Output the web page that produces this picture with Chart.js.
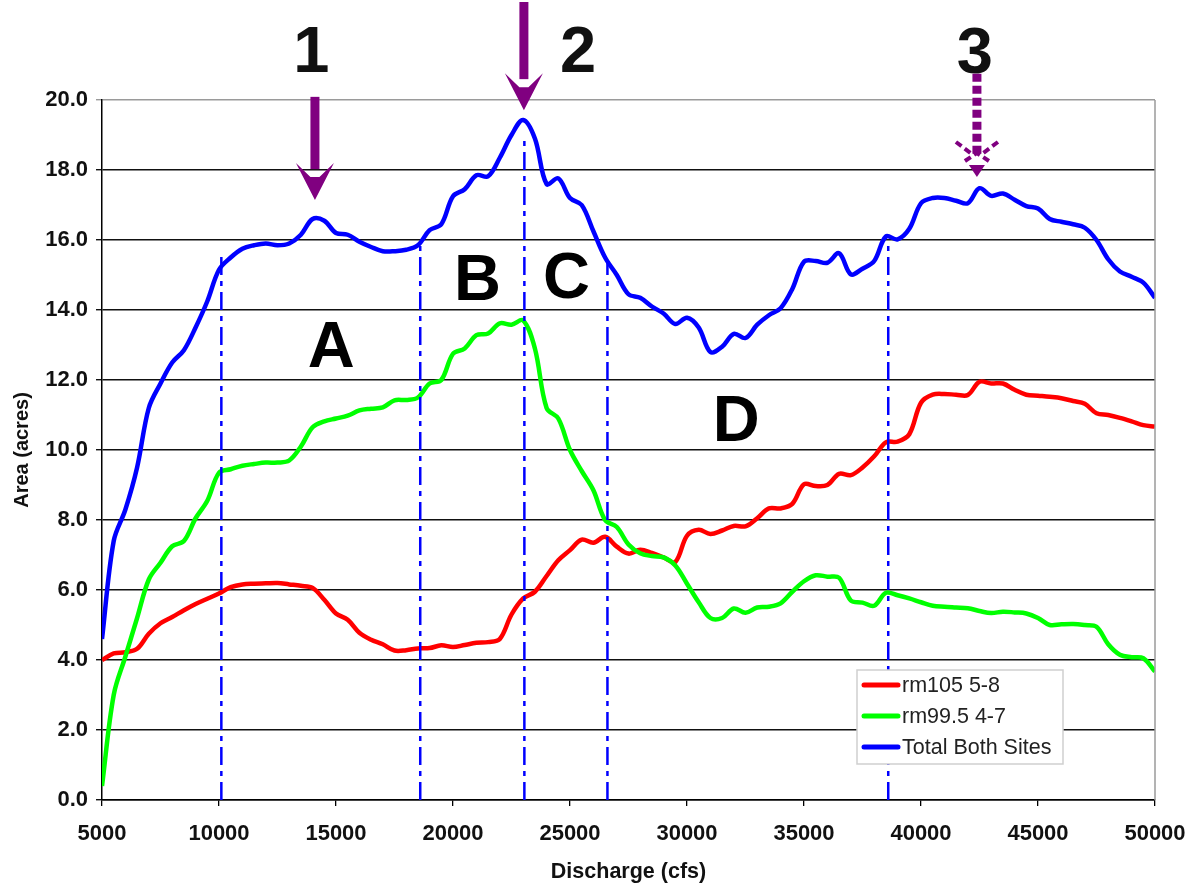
<!DOCTYPE html>
<html><head><meta charset="utf-8">
<script src="https://cdn.jsdelivr.net/npm/chart.js@4.4.0/dist/chart.umd.min.js"></script>
<style>html,body{margin:0;padding:0;background:#fff;}#wrap{width:1188px;height:891px;}</style>
</head><body><div id="wrap"><canvas id="c" width="1188" height="891"></canvas></div>
<script>
const discharge = [5000,5500,6000,6500,7000,7500,8000,8500,9000,9500,
  10000,10500,11000,11500,12000,12500,13000,13500,14000,14500,
  15000,15500,16000,16500,17000,17500,18000,18500,19000,19500,
  20000,20500,21000,21500,22000,22500,23000,23500,24000,24500,
  25000,25500,26000,26500,27000,27500,28000,28500,29000,29500,
  30000,30500,31000,31500,32000,32500,33000,33500,34000,34500,
  35000,35500,36000,36500,37000,37500,38000,38500,39000,39500,
  40000,40500,41000,41500,42000,42500,43000,43500,44000,44500,
  45000,45500,46000,46500,47000,47500,48000,48500,49000,49500,
  50000];
const rm105 = [4.0,4.19,4.22,4.32,4.75,5.05,5.23,5.42,5.6,5.75,
  5.9,6.08,6.16,6.18,6.19,6.2,6.16,6.12,6.06,5.72,
  5.33,5.15,4.78,4.58,4.45,4.27,4.28,4.33,4.34,4.42,
  4.37,4.43,4.49,4.51,4.6,5.3,5.76,5.95,6.4,6.85,
  7.14,7.44,7.35,7.52,7.24,7.04,7.15,7.06,6.93,6.8,
  7.55,7.72,7.6,7.7,7.83,7.82,8.05,8.33,8.33,8.46,
  9.02,8.97,9.0,9.32,9.28,9.5,9.82,10.22,10.24,10.45,
  11.35,11.58,11.6,11.58,11.57,11.95,11.9,11.9,11.72,11.58,
  11.55,11.52,11.48,11.4,11.32,11.05,11.0,10.92,10.82,10.71,
  10.67];
const rm995 = [0.4,3.0,4.1,5.2,6.3,6.78,7.25,7.4,8.05,8.55,
  9.35,9.45,9.55,9.6,9.64,9.64,9.7,10.1,10.65,10.82,
  10.9,10.98,11.13,11.18,11.22,11.42,11.43,11.5,11.9,12.0,
  12.75,12.9,13.28,13.33,13.62,13.58,13.7,12.9,11.2,10.9,
  10.0,9.4,8.85,8.0,7.8,7.3,7.05,6.97,6.93,6.7,
  6.18,5.65,5.2,5.2,5.47,5.35,5.5,5.52,5.62,5.95,
  6.25,6.42,6.38,6.35,5.7,5.64,5.55,5.92,5.85,5.76,
  5.65,5.55,5.52,5.5,5.48,5.4,5.34,5.38,5.36,5.33,
  5.2,5.0,5.02,5.03,5.0,4.95,4.45,4.15,4.08,4.05,
  3.67];
const totalBoth = [4.6,7.4,8.3,9.5,11.2,11.9,12.5,12.85,13.5,14.25,
  15.15,15.5,15.75,15.85,15.9,15.85,15.9,16.15,16.6,16.55,
  16.2,16.15,15.95,15.8,15.68,15.68,15.72,15.85,16.28,16.45,
  17.25,17.45,17.85,17.82,18.35,19.0,19.43,18.9,17.6,17.76,
  17.2,17.0,16.25,15.5,15.0,14.45,14.35,14.1,13.9,13.6,
  13.78,13.5,12.8,12.95,13.32,13.2,13.58,13.85,14.05,14.6,
  15.38,15.4,15.35,15.62,15.02,15.18,15.4,16.1,16.02,16.32,
  17.05,17.2,17.2,17.12,17.05,17.48,17.26,17.33,17.15,16.97,
  16.9,16.6,16.52,16.45,16.35,16.0,15.45,15.1,14.95,14.78,
  14.35];
const seriesNames = ['rm105 5-8','rm99.5 4-7','Total Both Sites'];
const dividerX = [10100, 18600, 23050, 26600, 38600];
const dividerTop = [15.55, 15.86, 18.95, 15.35, 15.9];
const zoneLabels = ['A','B','C','D'];
const zoneX = [14800, 21050, 24850, 32100];
const zoneY = [12.37, 14.29, 14.34, 10.26];
const markerLabels = ['1','2','3'];
const markerLabelX = [13950, 25350, 42300];
const markerLabelY = [20.8, 20.8, 20.77];
const arrowX = [14100, 23030, 42390];
const arrowTop = [20.09, 22.8, 20.75];
const arrowTip = [17.14, 19.71, 17.8];
const arrowDotted = [false, false, true];
const xTickMin = 5000, xTickMax = 50000, xTickStep = 5000;
const yTickMin = 0, yTickMax = 20, yTickStep = 2;

const FONT = "'Liberation Sans', Arial, sans-serif";
const colors = ['#ff0000', '#00ff00', '#0000ff'];
const seriesData = [rm105, rm995, totalBoth];

const datasets = seriesData.map((arr, i) => ({
  label: seriesNames[i],
  data: discharge.map((x, j) => ({x: x, y: arr[j]})),
  borderColor: colors[i],
  backgroundColor: colors[i],
  borderWidth: 4.5,
  pointRadius: 0,
  tension: 0.35,
  fill: false,
  order: 3 - i,
  inLegend: true
}));
dividerX.forEach((x, i) => {
  datasets.push({
    label: 'divider' + i,
    data: [{x: x, y: 0}, {x: x, y: dividerTop[i]}],
    borderColor: '#0000ff',
    borderWidth: 2.5,
    borderDash: [18, 6, 5, 6],
    pointRadius: 0,
    tension: 0,
    fill: false,
    order: -1,
    inLegend: false
  });
});

const annotPlugin = {
  id: 'annot',
  beforeDatasetsDraw(chart) {
    const ctx = chart.ctx, xs = chart.scales.x, ys = chart.scales.y;
    ctx.save();
    ctx.fillStyle = '#000';
    ctx.font = 'bold 65px ' + FONT;
    ctx.textAlign = 'center';
    ctx.textBaseline = 'alphabetic';
    zoneLabels.forEach((t, i) => {
      ctx.fillText(t, xs.getPixelForValue(zoneX[i]), ys.getPixelForValue(zoneY[i]));
    });
    ctx.restore();
  },
  afterDraw(chart) {
    const ctx = chart.ctx, xs = chart.scales.x, ys = chart.scales.y, a = chart.chartArea;
    ctx.save();
    ctx.strokeStyle = '#9a9a9a';
    ctx.lineWidth = 1.5;
    ctx.beginPath();
    ctx.moveTo(a.right, a.top); ctx.lineTo(a.right, a.bottom);
    ctx.stroke();
    ctx.fillStyle = '#111';
    ctx.font = 'bold 65px ' + FONT;
    ctx.textAlign = 'center';
    ctx.textBaseline = 'alphabetic';
    markerLabels.forEach((t, i) => {
      ctx.fillText(t, xs.getPixelForValue(markerLabelX[i]), ys.getPixelForValue(markerLabelY[i]));
    });
    const purple = '#800080';
    arrowX.forEach((xv, i) => {
      const x = xs.getPixelForValue(xv);
      const y0 = ys.getPixelForValue(arrowTop[i]);
      const y1 = ys.getPixelForValue(arrowTip[i]);
      const hw = 19, hh = 37;
      if (!arrowDotted[i]) {
        ctx.fillStyle = purple;
        ctx.fillRect(x - 4.5, y0, 9, (y1 - hh + 6) - y0);
        ctx.beginPath();
        ctx.moveTo(x - hw, y1 - hh);
        ctx.lineTo(x - 4.5, y1 - hh + 14);
        ctx.lineTo(x + 4.5, y1 - hh + 14);
        ctx.lineTo(x + hw, y1 - hh);
        ctx.lineTo(x, y1);
        ctx.closePath();
        ctx.fill();
      } else {
        ctx.strokeStyle = purple;
        ctx.lineWidth = 9;
        ctx.setLineDash([8, 4]);
        ctx.beginPath();
        ctx.moveTo(x, y0); ctx.lineTo(x, y1 - 22);
        ctx.stroke();
        ctx.lineWidth = 4;
        ctx.setLineDash([7, 4]);
        ctx.beginPath();
        ctx.moveTo(x - hw - 2, y1 - hh + 2);
        ctx.lineTo(x - 5, y1 - hh + 14);
        ctx.moveTo(x + hw + 2, y1 - hh + 2);
        ctx.lineTo(x + 5, y1 - hh + 14);
        ctx.moveTo(x - 12, y1 - 16);
        ctx.lineTo(x, y1 - 24);
        ctx.lineTo(x + 12, y1 - 16);
        ctx.stroke();
        ctx.setLineDash([]);
        ctx.fillStyle = purple;
        ctx.beginPath();
        ctx.moveTo(x - 8, y1 - 12);
        ctx.lineTo(x + 8, y1 - 12);
        ctx.lineTo(x, y1);
        ctx.closePath();
        ctx.fill();
      }
    });
    const L = a.right - 298, T = a.bottom - 130, W = 206, H = 94;
    ctx.setLineDash([]);
    ctx.fillStyle = '#fff';
    ctx.fillRect(L, T, W, H);
    ctx.strokeStyle = '#cfcfcf';
    ctx.lineWidth = 1.5;
    ctx.strokeRect(L, T, W, H);
    const items = chart.data.datasets.filter(d => d.inLegend);
    ctx.font = '21.5px ' + FONT;
    ctx.textAlign = 'left';
    ctx.textBaseline = 'middle';
    items.forEach((d, i) => {
      const y = T + 15 + i * 31;
      ctx.strokeStyle = d.borderColor;
      ctx.lineWidth = 5;
      ctx.lineCap = 'round';
      ctx.beginPath();
      ctx.moveTo(L + 7, y); ctx.lineTo(L + 41, y);
      ctx.stroke();
      ctx.fillStyle = '#222';
      ctx.fillText(d.label, L + 45, y + 1);
    });
    ctx.restore();
  }
};

new Chart(document.getElementById('c'), {
  type: 'line',
  data: { datasets: datasets },
  options: {
    responsive: false,
    animation: false,
    events: [],
    layout: { padding: { top: 100, right: 33, left: 0, bottom: 0 } },
    plugins: { legend: { display: false }, tooltip: { enabled: false } },
    scales: {
      x: {
        type: 'linear',
        min: xTickMin, max: xTickMax,
        afterFit(s) { s.height = 91; s.paddingRight = 0; s.paddingLeft = 0; },
        ticks: { stepSize: xTickStep, maxRotation: 0, autoSkip: false, color: '#111', padding: 15,
          font: { family: FONT, size: 22, weight: 'bold' }, callback: v => String(v) },
        grid: { drawOnChartArea: false, drawTicks: true, tickLength: 6, color: '#000', lineWidth: 1.3 },
        border: { color: '#000', width: 1.5 },
        title: { display: true, text: 'Discharge (cfs)', color: '#111', padding: { top: 0, bottom: 6 },
          font: { family: FONT, size: 21.5, weight: 'bold' } }
      },
      y: {
        min: yTickMin, max: yTickMax,
        afterFit(s) { s.width = 102; s.paddingTop = 0; s.paddingBottom = 0; },
        ticks: { stepSize: yTickStep, color: '#111', padding: 8,
          font: { family: FONT, size: 22, weight: 'bold' }, callback: v => v.toFixed(1) },
        grid: { color: c => (c.tick && c.tick.value === yTickMax) ? '#9a9a9a' : '#111', lineWidth: 1.4, tickLength: 6 },
        border: { color: '#000', width: 1.5 },
        title: { display: true, text: 'Area (acres)', color: '#111', padding: { top: 10, bottom: 0 },
          font: { family: FONT, size: 20, weight: 'bold' } }
      }
    }
  },
  plugins: [annotPlugin]
});
</script>
</body></html>
